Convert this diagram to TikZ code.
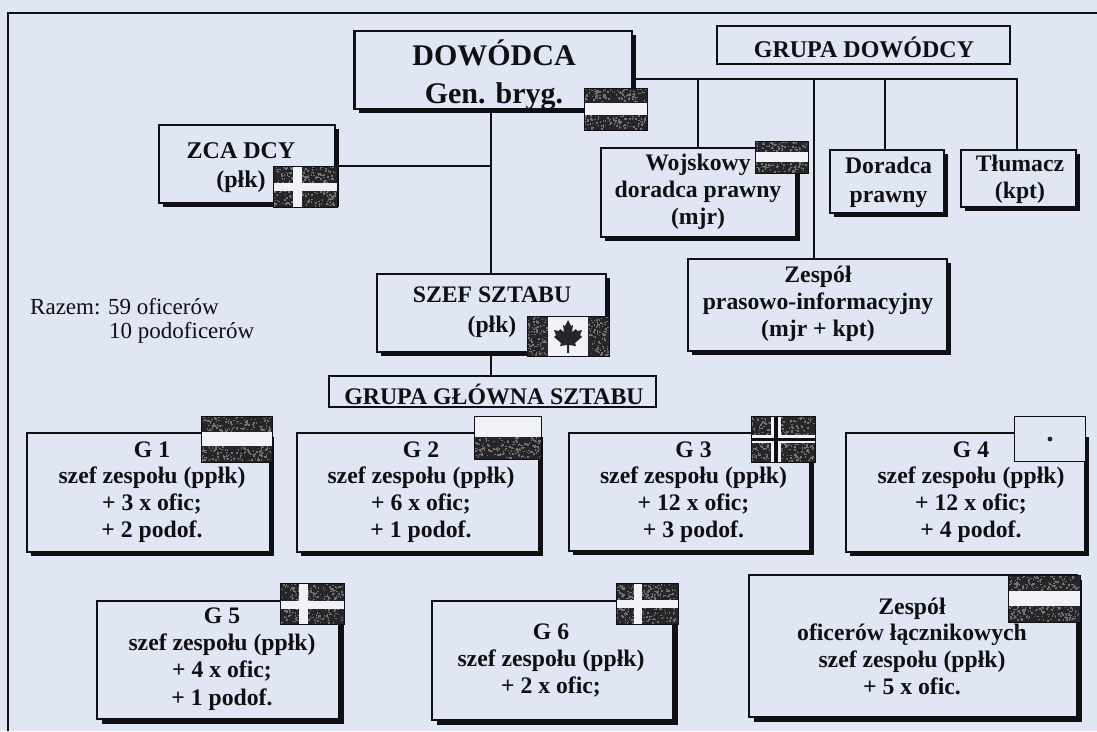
\documentclass[tikz,border=0pt]{standalone}
\usepackage{fontspec}
\setmainfont{Liberation Serif}
\usetikzlibrary{shadows}
\definecolor{paper}{RGB}{224,230,243}
\definecolor{ink}{RGB}{16,16,18}
\definecolor{dkc}{RGB}{38,38,40}
\definecolor{flagw}{RGB}{240,242,247}
\tikzset{
  boxbase/.style={draw=ink,fill=paper,line width=2.3pt,inner sep=0pt,outer sep=0pt},
  flatbox/.style={boxbase},
  sh/.style={boxbase,general shadow={fill=ink,shadow xshift=#1pt,shadow yshift=-#1pt}},
  wire/.style={draw=ink,line width=1.1pt},
  lbl/.style={inner sep=0pt,align=center,text=ink},
  plain/.style={inner sep=0pt,align=left,text=ink,anchor=west},
  flagline/.style={draw=ink,line width=0.6pt}
}
% box: style, name, x1,y1,x2,y2
\newcommand\bx[6]{%
  \pgfmathsetmacro\bw{#5-#3}\pgfmathsetmacro\bh{#6-#4}%
  \pgfmathsetmacro\bcx{(#3+#5)/2}\pgfmathsetmacro\bcy{(#4+#6)/2}%
  \node[#1,minimum width=\bw pt,minimum height=\bh pt] (#2) at (\bcx,\bcy) {};}
% text: name, x, y, size, skip, text
\newcommand\tx[6]{\node[lbl,font=\bfseries\fontsize{#4}{#5}\selectfont] (#1) at (#2,#3) {#6};}
% dark noisy area
\newcommand\dk[4]{%
  \fill[dkc] (#1,#2) rectangle (#3,#4);
  \pgfmathsetmacro\nn{int((#3-#1)*(#4-#2)/9)}%
  \foreach \q in {1,...,\nn}{%
    \pgfmathsetmacro\ax{#1+rnd*(#3-#1-1.6)}%
    \pgfmathsetmacro\ay{#2+rnd*(#4-#2-1.6)}%
    \fill[black!55] (\ax,\ay) rectangle +(1.5,1.5);}}
% striped flag dark/white/dark
\newcommand\stripes[4]{%
  \fill[flagw] (#1,#2) rectangle (#3,#4);
  \pgfmathsetmacro\ya{#2+(#4-#2)*0.35}\pgfmathsetmacro\yb{#2+(#4-#2)*0.65}%
  \edef\yaa{\ya}\edef\ybb{\yb}%
  \dk{#1}{#2}{#3}{\yaa}
  \dk{#1}{\ybb}{#3}{#4}
  \draw[flagline] (#1,#2) rectangle (#3,#4);}
% cross flag: x1,y1,x2,y2, cross x1,x2,y1,y2
\newcommand\cross[8]{%
  \dk{#1}{#2}{#3}{#4}
  \fill[flagw] (#5,#2) rectangle (#6,#4);
  \fill[flagw] (#1,#7) rectangle (#3,#8);
  \draw[flagline] (#1,#2) rectangle (#3,#4);}
\begin{document}
\begin{tikzpicture}[x=1pt,y=-1pt]
\pgfmathsetseed{11}
\useasboundingbox (0,0) rectangle (1097,731);
\fill[paper] (0,0) rectangle (1097,731);
% outer frame
\draw[draw=ink,line width=2.2pt] (8,731) -- (8,13) -- (1097,13);

% boxes
\bx{sh=4}{dow}{354.5}{31}{632}{109}
\bx{flatbox}{gd}{717}{26}{1010}{64}
\bx{sh=4}{zca}{159}{125}{335}{203}
\bx{sh=4}{woj}{601}{148}{796}{237}
\bx{sh=4}{dor}{830}{150}{944}{213}
\bx{sh=4}{tlu}{961}{150}{1076}{207}
\bx{sh=4}{szef}{377}{274}{606}{352}
\bx{sh=4}{zes}{688}{259}{947}{351}
\bx{flatbox}{ggs}{329}{376}{656}{407}
\bx{sh=4}{gA}{27}{433}{270}{552}
\bx{sh=4}{gB}{297}{433}{539}{552}
\bx{sh=4}{gC}{569}{433}{810}{551}
\bx{sh=4}{gD}{846}{433}{1085}{552}
\bx{sh=5}{gE}{97}{601}{339}{719}
\bx{sh=5}{gF}{432}{601}{673}{720}
\bx{sh=5}{gG}{749}{575}{1077}{717}

% connectors
\coordinate (mainx) at (491,0);
\coordinate (busy) at (0,79);
\coordinate (zcay) at (0,166);
\coordinate (wx) at (698,0);
\coordinate (zx) at (814,0);
\coordinate (dx) at (885,0);
\coordinate (tx) at (1017,0);
\draw[wire] (dow.south -| mainx) -- (szef.north -| mainx);
\draw[wire] (szef.south -| mainx) -- (ggs.north -| mainx);
\draw[wire] (zca.east |- zcay) -- (mainx |- zcay);
\draw[wire] (dow.east |- busy) -- (tx |- busy) -- (tx |- tlu.north);
\draw[wire] (wx |- busy) -- (wx |- woj.north);
\draw[wire] (zx |- busy) -- (zx |- zes.north);
\draw[wire] (dx |- busy) -- (dx |- dor.north);

% flags
\stripes{584}{88}{647}{130}
\stripes{755}{141}{808}{173}
\cross{273}{166}{337}{207}{293}{302}{183}{191}
% Canada
\fill[flagw] (527,316) rectangle (609,356);
\dk{527}{316}{548}{356}
\dk{588}{316}{609}{356}
\draw[flagline] (527,316) rectangle (609,356);
\fill[dkc,shift={(568,335)}] (0,-15) -- (3,-9) -- (5,-10) -- (4,-3) -- (8,-6) -- (9,-4) -- (14,-5) -- (12,0) -- (14,2) -- (7,8) -- (8,11) -- (1,10) -- (1,18) -- (-1,18) -- (-1,10) -- (-8,11) -- (-7,8) -- (-14,2) -- (-12,0) -- (-14,-5) -- (-9,-4) -- (-8,-6) -- (-4,-3) -- (-5,-10) -- (-3,-9) -- cycle;
\stripes{201}{416}{272}{462}
% G2 flag
\fill[flagw] (474.5,416) rectangle (541.5,437);
\dk{474.5}{437}{541.5}{459}
\draw[flagline] (474.5,416) rectangle (541.5,459);
% G3 flag
\cross{751}{416}{815}{462}{771}{781}{435}{443}
\fill[ink] (774,416) rectangle (777.5,462);
\fill[ink] (751,437.5) rectangle (815,441);
% G4 flag
\fill[paper] (1014,416) rectangle (1085,461);
\draw[flagline] (1014,416) rectangle (1085,461);
\fill[dkc] (1050,439) circle (2.4);
\cross{280.5}{583}{344}{624}{298.5}{308}{601}{609}
\cross{616}{583}{678}{624}{633.6}{642}{600}{608}
\stripes{1008.6}{575}{1080}{622}

% texts
\tx{tDow}{494}{75}{30}{38}{DOWÓDCA\\Gen. bryg.}
\tx{tGd}{864}{47}{24}{27}{GRUPA DOWÓDCY}
\tx{tZca}{241}{168}{24}{29}{ZCA DCY\\(płk)}
\tx{tWoj}{698}{192}{23.7}{27}{Wojskowy\\doradca prawny\\(mjr)}
\tx{tDor}{888.5}{182}{23.7}{29}{Doradca\\prawny}
\tx{tTlu}{1020}{179}{23.7}{27}{Tłumacz\\(kpt)}
\tx{tSzef}{492}{312}{23.7}{30}{SZEF SZTABU\\(płk)}
\tx{tZes}{818}{304}{23.7}{27}{Zespół\\prasowo-informacyjny\\(mjr + kpt)}
\tx{tGgs}{494}{394}{23.8}{27}{GRUPA GŁÓWNA SZTABU}
\tx{tA}{152}{492}{23.7}{26.7}{G 1\\szef zespołu (ppłk)\\+ 3 x ofic;\\+ 2 podof.}
\tx{tB}{421}{492}{23.7}{26.7}{G 2\\szef zespołu (ppłk)\\+ 6 x ofic;\\+ 1 podof.}
\tx{tC}{693.5}{492}{23.7}{26.7}{G 3\\szef zespołu (ppłk)\\+ 12 x ofic;\\+ 3 podof.}
\tx{tD}{971}{492}{23.7}{26.7}{G 4\\szef zespołu (ppłk)\\+ 12 x ofic;\\+ 4 podof.}
\tx{tE}{222}{659}{23.7}{27.3}{G 5\\szef zespołu (ppłk)\\+ 4 x ofic;\\+ 1 podof.}
\tx{tF}{551}{660}{23.7}{27}{G 6\\szef zespołu (ppłk)\\+ 2 x ofic;}
\tx{tG}{912}{646}{23.7}{26.7}{Zespół\\oficerów łącznikowych\\szef zespołu (ppłk)\\+ 5 x ofic.}
\node[plain,font=\fontsize{23}{26}\selectfont] (razA) at (30,307) {Razem: 59 oficerów};
\node[plain,font=\fontsize{23}{26}\selectfont] (razB) at (109,333) {10 podoficerów};
\end{tikzpicture}
\end{document}
